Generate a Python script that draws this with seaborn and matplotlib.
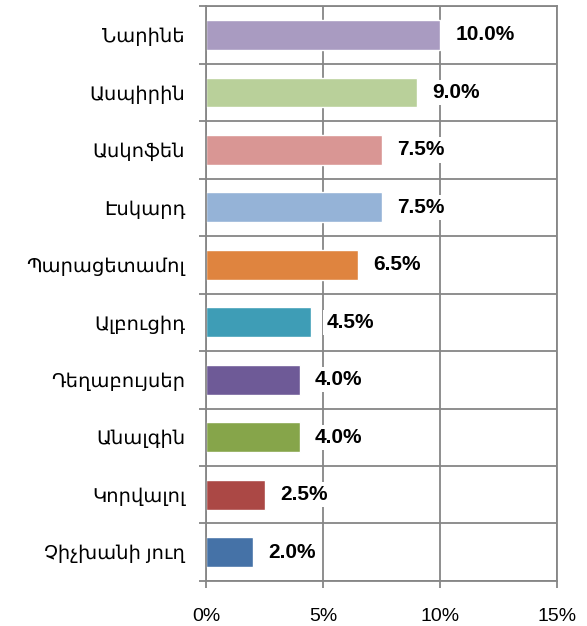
import numpy as np
import pandas as pd
import seaborn as sb
from matplotlib import pyplot as plt
from matplotlib.ticker import FixedLocator, PercentFormatter

# Datos del grafico (de arriba hacia abajo).
categorias = ['Նարինե', 'Ասպիրին', 'Ասկոֆեն', 'Էսկարդ', 'Պարացետամոլ',
              'Ալբուցիդ', 'Դեղաբույսեր', 'Անալգին', 'Կորվալոլ', 'Չիչխանի յուղ']
valores = [10.0, 9.0, 7.5, 7.5, 6.5, 4.5, 4.0, 4.0, 2.5, 2.0]
colores = ['#A99BC1', '#B9D09A', '#D99694', '#95B3D7', '#DF843F',
           '#3E9DB6', '#6E5A97', '#86A54A', '#AB4845', '#4572A7']
ticks_x = [0, 5, 10, 15]

sb.set_style('white')
plt.rcParams['font.family'] = ['Liberation Sans', 'DejaVu Sans']

df = pd.DataFrame({'categoria': categorias, 'valor': valores})

fig = plt.figure(figsize=(5.87, 6.26), dpi=100)
ax = fig.add_axes([0.351, 0.072, 0.598, 0.918])

sb.barplot(data=df, x='valor', y='categoria', hue='categoria',
           palette=colores, order=categorias, width=0.52,
           legend=False, ax=ax, saturation=1)

gris = '#868686'
ax.set_xlim(0, 15)
ax.set_ylim(len(categorias) - 0.5, -0.5)
ax.xaxis.set_major_locator(FixedLocator(ticks_x))
ax.xaxis.set_major_formatter(PercentFormatter(decimals=0))
ax.yaxis.set_minor_locator(FixedLocator(np.arange(-0.5, len(categorias), 1)))

ax.set_axisbelow(True)
ax.grid(axis='x', which='major', color=gris, linewidth=1.3)
ax.grid(axis='y', which='minor', color=gris, linewidth=1.3)
for lado in ax.spines.values():
    lado.set_color(gris)
    lado.set_linewidth(1.3)

ax.tick_params(axis='y', which='major', left=True, length=0, pad=15,
               labelsize=14, labelcolor='black')
ax.tick_params(axis='y', which='minor', left=True, length=5, color=gris,
               width=1.3)
ax.tick_params(axis='x', which='major', bottom=True, length=5, color=gris,
               width=1.3, pad=14.5, labelsize=14, labelcolor='black')
ax.set_xlabel('')
ax.set_ylabel('')

# Etiquetas de datos.
for i, v in enumerate(valores):
    ax.annotate(f'{v:.1f}%', xy=(v, i), xytext=(11, 0),
                textcoords='offset points', va='center', ha='left',
                fontsize=15, fontweight='bold', color='black',
                bbox=dict(boxstyle='square,pad=0.15', fc='white', ec='none'))

fig.savefig('out.png', dpi=100)
